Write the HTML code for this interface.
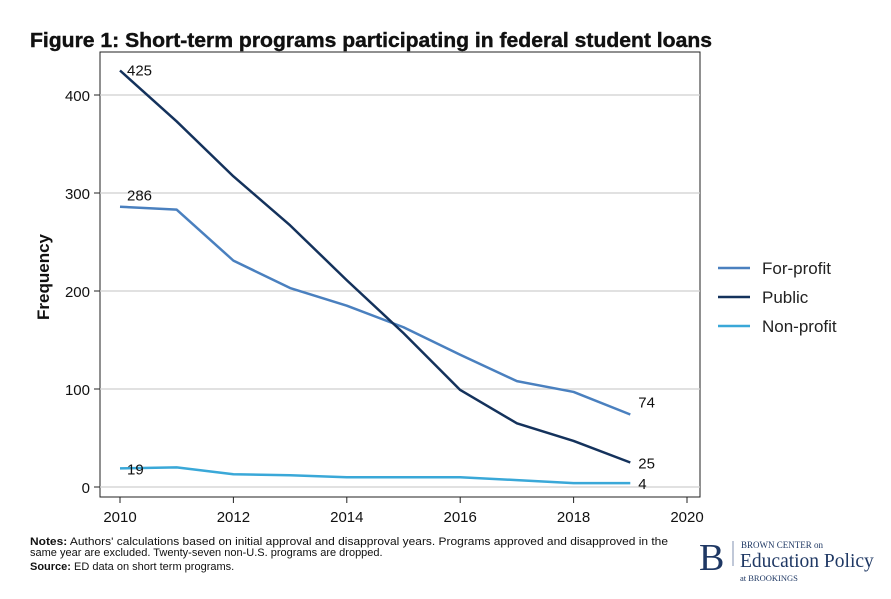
<!DOCTYPE html>
<html><head><meta charset="utf-8">
<style>
body{margin:0;background:#fff;width:891px;height:594px;overflow:hidden;font-family:"Liberation Sans",sans-serif;}
svg text{font-family:"Liberation Sans",sans-serif;}
</style></head>
<body>
<svg id="chart" width="891" height="594">
<text x="30" y="47" font-size="20" font-weight="bold" fill="#111" textLength="682" lengthAdjust="spacingAndGlyphs" stroke="#111" stroke-width="0.4">Figure 1: Short-term programs participating in federal student loans</text>
<rect x="100" y="52" width="600" height="445" fill="none" stroke="#222" stroke-width="1"/>
<g id="grid"></g><g id="axes"></g><g id="series"></g>
<text transform="translate(49,277) rotate(-90)" text-anchor="middle" font-size="17" font-weight="bold" fill="#111">Frequency</text>
<g font-size="17" fill="#222">
<line x1="718" y1="268" x2="750" y2="268" stroke="#4a80bf" stroke-width="2.5"/>
<text x="762" y="274">For-profit</text>
<line x1="718" y1="297" x2="750" y2="297" stroke="#14325c" stroke-width="2.5"/>
<text x="762" y="303">Public</text>
<line x1="718" y1="326" x2="750" y2="326" stroke="#3aa8d8" stroke-width="2.5"/>
<text x="762" y="332">Non-profit</text>
</g>
<g font-size="11" fill="#111">
<text x="30" y="545" textLength="638" lengthAdjust="spacingAndGlyphs"><tspan font-weight="bold">Notes:</tspan> Authors' calculations based on initial approval and disapproval years. Programs approved and disapproved in the</text>
<text x="30" y="556">same year are excluded. Twenty-seven non-U.S. programs are dropped.</text>
<text x="30" y="570"><tspan font-weight="bold">Source:</tspan> ED data on short term programs.</text>
</g>
<g fill="#1f3864">
<text x="699" y="570" font-size="38" style="font-family:'Liberation Serif',serif">B</text>
<line x1="733" y1="541" x2="733" y2="566" stroke="#8090b0" stroke-width="1"/>
<text x="741" y="548" font-size="9" style="font-family:'Liberation Serif',serif">BROWN CENTER on</text>
<text x="740" y="567" font-size="19.5" style="font-family:'Liberation Serif',serif">Education Policy</text>
<text x="740" y="581" font-size="8.5" style="font-family:'Liberation Serif',serif">at BROOKINGS</text>
</g>
</svg>
<script>
const years=[2010,2011,2012,2013,2014,2015,2016,2017,2018,2019];
const forProfit=[286,283,231,203,185,163,135,108,97,74];
const publicVals=[425,373,317,267,211,157,99,65,47,25];
const nonProfit=[19,20,13,12,10,10,10,7,4,4];
const yTicks=[0,100,200,300,400];
const xTicks=[2010,2012,2014,2016,2018,2020];
const NS='http://www.w3.org/2000/svg';
const xs=v=>120+(v-2010)*56.7;
const ys=v=>487-v*0.98;
function mk(tag,attrs,parent,txt){const e=document.createElementNS(NS,tag);for(const k in attrs)e.setAttribute(k,attrs[k]);if(txt!==undefined)e.textContent=txt;document.getElementById(parent).appendChild(e);return e;}
yTicks.forEach(t=>{
  const g=mk('line',{x1:100,x2:700,y1:ys(t),y2:ys(t),stroke:'#cfcfcf','stroke-width':1.2},'grid');
  
  
  const tk=mk('line',{x1:94,x2:100,y1:ys(t),y2:ys(t),stroke:'#222'},'axes');
  
  
  const l=mk('text',{x:90,y:ys(t)+6,'text-anchor':'end','font-size':15,fill:'#111'},'axes',t);
  
  
});
xTicks.forEach(t=>{
  const tk=mk('line',{x1:xs(t),x2:xs(t),y1:497,y2:503,stroke:'#222'},'axes');
  
  
  const l=mk('text',{x:xs(t),y:522,'text-anchor':'middle','font-size':15,fill:'#111'},'axes',t);
  
  
});
const series=[['for-profit',forProfit,'#4a80bf'],['public',publicVals,'#14325c'],['non-profit',nonProfit,'#3aa8d8']];
series.forEach(([n,vals,c])=>{
  const p=mk('polyline',{points:vals.map((v,i)=>xs(years[i])+','+ys(v)).join(' '),fill:'none',stroke:c,'stroke-width':2.5,'stroke-linejoin':'round'},'series');
  
  
  const f=mk('text',{x:xs(years[0])+7,y:ys(vals[0])-6,'font-size':15,fill:'#111'},'series',vals[0]);
  if(n==='non-profit')f.setAttribute('y',ys(vals[0])+6);
  if(n==='public')f.setAttribute('y',ys(vals[0])+5);
  
  
  const last=vals.length-1;
  const l=mk('text',{x:xs(years[last])+8,y:ys(vals[last])+(n==='for-profit'?-7:6),'font-size':15,fill:'#111'},'series',vals[last]);
  
  
});
</script>
</body></html>
